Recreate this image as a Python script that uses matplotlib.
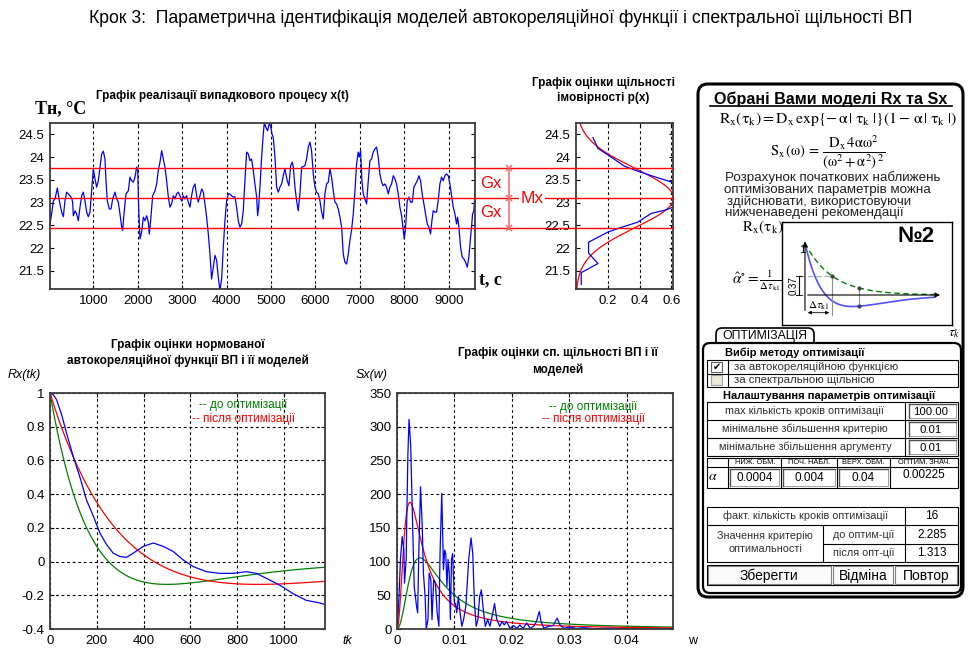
import numpy as np
import matplotlib
matplotlib.use('Agg')
import matplotlib.pyplot as plt
from matplotlib.patches import FancyBboxPatch, Rectangle
from matplotlib.lines import Line2D
import matplotlib.transforms as mtransforms

plt.rcParams['font.family'] = ['Liberation Sans', 'DejaVu Sans']
plt.rcParams['mathtext.fontset'] = 'stix'

# ---------------- data ----------------
t_series = [25, 62, 100, 138, 190, 235, 288, 325, 362, 400, 475, 512, 535, 550, 588, 625, 662, 700, 738, 775,
            812, 850, 888, 925, 962, 1000, 1038, 1075, 1112, 1150, 1188, 1225, 1262, 1285, 1315, 1360, 1398, 1435,
            1488, 1525, 1562, 1600, 1638, 1660, 1690, 1735, 1788, 1825, 1862, 1900, 1938, 1975, 1998, 2020, 2050,
            2088, 2125, 2162, 2200, 2238, 2260, 2290, 2335, 2388, 2425, 2462, 2500, 2538, 2575, 2612, 2650, 2688,
            2725, 2762, 2800, 2838, 2875, 2912, 2950, 2988, 3025, 3062, 3100, 3138, 3175, 3212, 3250, 3288, 3325,
            3362, 3400, 3438, 3475, 3512, 3550, 3588, 3625, 3662, 3700, 3738, 3775, 3812, 3850, 3888, 3925, 3962,
            4000, 4038, 4075, 4112, 4150, 4188, 4225, 4262, 4300, 4338, 4375, 4412, 4450, 4488, 4525, 4562, 4600,
            4638, 4675, 4698, 4720, 4750, 4788, 4825, 4848, 4885, 4922, 4960, 4990, 5020, 5050, 5088, 5125, 5162,
            5200, 5238, 5275, 5312, 5335, 5365, 5402, 5440, 5478, 5500, 5538, 5575, 5612, 5650, 5688, 5725, 5762,
            5800, 5838, 5875, 5912, 5950, 5988, 6025, 6062, 6100, 6138, 6175, 6212, 6250, 6288, 6325, 6362, 6400,
            6438, 6475, 6512, 6550, 6588, 6625, 6662, 6700, 6738, 6775, 6812, 6850, 6888, 6925, 6962, 6985, 7015,
            7045, 7075, 7112, 7150, 7188, 7225, 7262, 7300, 7338, 7375, 7412, 7450, 7488, 7525, 7562, 7600, 7638,
            7675, 7712, 7750, 7788, 7825, 7862, 7900, 7938, 7975, 7998, 8028, 8065, 8102, 8140, 8178, 8215, 8252,
            8290, 8328, 8365, 8402, 8440, 8478, 8515, 8552, 8590, 8620, 8650, 8688, 8725, 8762, 8800, 8838, 8875,
            8912, 8950, 8988, 9025, 9062, 9100, 9138, 9175, 9198, 9228, 9265, 9302, 9340, 9378, 9415, 9452, 9490,
            9512, 9535, 9565, 9588]
x_series = [22.53, 22.75, 23.04, 23.08, 23.32, 23.04, 22.79, 22.69, 23.04, 23.23, 23.15, 23.10, 23.01, 22.71, 22.82,
            22.75, 22.60, 22.90, 23.15, 23.23, 23.04, 22.79, 22.69, 22.79, 23.26, 23.74, 23.52, 23.34, 23.48, 23.78,
            24.07, 24.13, 23.96, 23.48, 23.04, 22.86, 22.86, 23.08, 23.23, 23.08, 23.01, 22.75, 22.46, 22.39, 22.75,
            23.19, 23.26, 23.56, 23.48, 23.45, 23.56, 23.78, 23.74, 22.90, 22.20, 22.35, 22.68, 22.60, 22.71, 22.57,
            22.31, 22.60, 23.15, 23.26, 23.41, 23.70, 23.89, 24.14, 23.96, 23.78, 23.48, 23.12, 22.90, 22.97, 23.15,
            23.08, 23.19, 23.23, 23.15, 23.03, 23.15, 23.08, 23.15, 23.01, 22.90, 23.15, 23.34, 23.41, 23.15, 23.01,
            23.15, 23.30, 23.23, 22.97, 22.68, 22.31, 21.87, 21.32, 21.58, 21.84, 21.73, 21.36, 21.07, 21.32, 22.02,
            22.60, 23.04, 23.19, 23.19, 23.15, 23.12, 23.13, 22.90, 22.60, 22.46, 22.53, 22.82, 23.48, 24.11, 24.07,
            23.92, 23.96, 23.70, 23.41, 23.12, 22.71, 22.90, 23.34, 24.00, 24.51, 24.76, 24.65, 24.58, 24.73, 24.69,
            24.51, 24.43, 24.00, 23.34, 23.23, 23.34, 23.41, 23.59, 23.74, 23.63, 23.48, 23.37, 23.81, 23.89, 23.78,
            23.34, 23.04, 22.82, 23.19, 23.78, 23.79, 23.81, 23.96, 24.22, 24.33, 24.14, 23.63, 23.34, 23.23, 23.19,
            23.04, 22.79, 22.64, 23.19, 23.41, 23.45, 23.74, 23.56, 23.26, 23.01, 22.97, 22.86, 22.68, 22.46, 21.87,
            21.69, 21.65, 21.87, 22.17, 22.39, 22.75, 23.26, 23.85, 24.11, 24.00, 24.14, 23.48, 23.19, 23.08, 22.97,
            23.48, 23.92, 23.96, 24.11, 24.18, 24.22, 24.00, 23.63, 23.45, 23.37, 23.41, 23.34, 23.19, 23.34, 23.41,
            23.59, 23.52, 23.41, 23.19, 22.90, 22.71, 22.39, 22.20, 22.46, 23.04, 23.12, 23.01, 23.01, 23.34, 23.41,
            23.48, 23.59, 23.48, 23.19, 22.97, 22.75, 22.53, 22.46, 22.31, 22.60, 22.82, 22.79, 22.79, 23.04, 23.41,
            23.56, 23.48, 23.59, 23.63, 23.59, 23.41, 23.15, 22.90, 22.75, 22.53, 22.68, 22.46, 22.02, 21.80, 21.76,
            21.69, 21.58, 21.80, 22.24, 22.46, 22.75, 22.82, 23.19]

Mx = 23.1   # mean
Gx = 0.65   # standard deviation

pdf_level = [24.43, 24.19, 24.06, 23.80, 23.69, 23.57, 23.43, 23.25, 23.05, 22.91, 22.83, 22.76, 22.57, 22.43,
             22.35, 22.13, 21.89, 21.66, 21.46, 21.20]
pdf_dens = [0.107, 0.138, 0.196, 0.305, 0.389, 0.493, 0.62, 0.70, 0.70, 0.62, 0.556, 0.472, 0.389, 0.263,
            0.20, 0.079, 0.079, 0.138, 0.033, 0.033]

tau_emp = [0, 14, 28, 50, 71, 100, 128, 156, 185, 213, 242, 270, 299, 327, 356, 398, 441, 484, 526, 569, 612,
           669, 725, 782, 839, 882, 925, 982, 1038, 1095, 1152, 1173]
R_emp = [1.0, 0.99, 0.96, 0.87, 0.76, 0.62, 0.50, 0.365, 0.27, 0.17, 0.10, 0.05, 0.03, 0.025, 0.05, 0.09, 0.11,
         0.09, 0.06, 0.01, -0.03, -0.06, -0.07, -0.07, -0.06, -0.07, -0.10, -0.14, -0.19, -0.23, -0.245, -0.255]

alpha_before = 0.004
alpha_after = 0.00225
Dx = Gx ** 2

w_emp = [0, 0.0003, 0.0006, 0.0009, 0.0012, 0.0013, 0.0016, 0.0017, 0.0019, 0.0021, 0.0024, 0.0027, 0.0030,
         0.0034, 0.0036, 0.0038, 0.0041, 0.0044, 0.0046, 0.0049, 0.0051, 0.0054, 0.0056, 0.0059, 0.0061, 0.0064,
         0.0067, 0.0070, 0.0073, 0.0075, 0.0078, 0.0081, 0.0083, 0.0085, 0.0087, 0.0089, 0.0091, 0.0093, 0.0095,
         0.0097, 0.0100, 0.0102, 0.0104, 0.0107, 0.0110, 0.0113, 0.0116, 0.0120, 0.0125, 0.0129, 0.0132, 0.0135,
         0.0138, 0.0141, 0.0144, 0.0147, 0.0151, 0.0154, 0.0158, 0.0162, 0.0167, 0.0170, 0.0174, 0.0179, 0.0183,
         0.0187, 0.0191, 0.0197, 0.0203, 0.0209, 0.0214, 0.0220, 0.0226, 0.0232, 0.0238, 0.0243, 0.0248, 0.0251,
         0.0256, 0.0264, 0.0272, 0.0279, 0.0284, 0.0291, 0.0301, 0.0313, 0.0325, 0.0342, 0.0365, 0.0394, 0.0423,
         0.0452, 0.0481]
S_emp = [0, 38, 103, 137, 117, 68, 103, 162, 260, 311, 270, 162, 63, 34, 24, 112, 211, 152, 83, 48, 0, 14, 83,
         73, 14, 73, 68, 24, 4, 112, 201, 88, 117, 112, 63, 103, 83, 14, 103, 112, 38, 38, 24, 48, 24, 4, 14, 34,
         103, 135, 112, 38, 4, 14, 48, 58, 24, 4, 14, 4, 24, 38, 14, 4, 11, 6, 11, 1, 5, 1, 6, 1, 9, 1, 4, 11, 26,
         11, 1, 4, 5, 16, 6, 1, 3, 1, 2, 0.5, 1, 0.5, 0.5, 0.5, 0.5]

ts_xticks = [1000, 2000, 3000, 4000, 5000, 6000, 7000, 8000, 9000]
ts_yticks = [21.5, 22, 22.5, 23, 23.5, 24, 24.5]
pdf_xticks = [0.2, 0.4, 0.6]
acf_xticks = [0, 200, 400, 600, 800, 1000]
acf_yticks = [-0.4, -0.2, 0, 0.2, 0.4, 0.6, 0.8, 1]
sp_xticks = [0, 0.01, 0.02, 0.03, 0.04]
sp_yticks = [0, 50, 100, 150, 200, 250, 300, 350]

# ---------------- figure ----------------
W, H = 969, 651
fig = plt.figure(figsize=(W / 100, H / 100), dpi=100)
fig.patch.set_facecolor('white')


def rect(l, t, r, b):
    return [l / W, 1 - b / H, (r - l) / W, (b - t) / H]


def ftxt(x, y, s, **kw):
    kw.setdefault('ha', 'center')
    kw.setdefault('va', 'center')
    return fig.text(x / W, 1 - y / H, s, **kw)


GRID = dict(color='black', linestyle=(0, (2.5, 2.5)), linewidth=0.8)
fmt = matplotlib.ticker.FuncFormatter(lambda v, p: ('%g' % round(v, 6)))


def style(ax):
    for s in ax.spines.values():
        s.set_color('#3c3c3c')
        s.set_linewidth(1.3)
    ax.tick_params(direction='in', length=3, width=0.8, labelsize=9.5, top=True, right=True, pad=4)
    ax.xaxis.set_major_formatter(fmt)
    ax.yaxis.set_major_formatter(fmt)


# time series
ax1 = fig.add_axes(rect(50, 123, 475, 289))
ax1.plot(t_series, x_series, color='#0000ff', lw=0.9)
ax1.set_xlim(25, 9590)
ax1.set_ylim(21.1, 24.75)
ax1.set_xticks(ts_xticks)
ax1.set_yticks(ts_yticks)
ax1.grid(True, axis='x', **GRID)
style(ax1)

# pdf
ax2 = fig.add_axes(rect(576, 123, 673, 289))
ylev = np.linspace(21.1, 24.75, 300)
ax2.plot(np.exp(-(ylev - Mx) ** 2 / (2 * Gx ** 2)) / (Gx * np.sqrt(2 * np.pi)), ylev, color='red', lw=0.9)
ax2.plot(pdf_dens, pdf_level, color='#0000ff', lw=0.9)
ax2.set_xlim(0, 0.61)
ax2.set_ylim(21.1, 24.75)
ax2.set_xticks(pdf_xticks)
ax2.set_yticks(ts_yticks)
ax2.grid(True, axis='x', **GRID)
style(ax2)

# red Mx / Gx lines
trans = mtransforms.blended_transform_factory(fig.transFigure, ax1.transData)
for yv in [Mx - Gx, Mx, Mx + Gx]:
    fig.add_artist(Line2D([50 / W, 673 / W], [yv, yv], transform=trans, color='red', lw=1.0, zorder=5))
fig.add_artist(Line2D([509 / W] * 3, [Mx - Gx, Mx, Mx + Gx], transform=trans, color='#ff7070', lw=1.2,
                      marker='x', ms=4, mew=1.2, zorder=6))
fig.text(491 / W, Mx + Gx / 2, 'Gx', transform=trans, color='red', fontsize=12, ha='center', va='center')
fig.text(491 / W, Mx - Gx / 2, 'Gx', transform=trans, color='red', fontsize=12, ha='center', va='center')
fig.text(532 / W, Mx, 'Mx', transform=trans, color='red', fontsize=12.5, ha='center', va='center', zorder=7,
         bbox=dict(facecolor='white', edgecolor='none', pad=1.0))

# ACF
ax3 = fig.add_axes(rect(50, 393, 325, 629))
tau = np.linspace(0, 1175, 400)
ax3.plot(tau, np.exp(-alpha_before * tau) * (1 - alpha_before * tau), color='#008000', lw=0.9)
ax3.plot(tau, np.exp(-alpha_after * tau) * (1 - alpha_after * tau), color='red', lw=0.9)
ax3.plot(tau_emp, R_emp, color='#0000ff', lw=0.9)
ax3.set_xlim(0, 1175)
ax3.set_ylim(-0.4, 1)
ax3.set_xticks(acf_xticks)
ax3.set_yticks(acf_yticks)
ax3.grid(True, **GRID)
style(ax3)

# spectral density
ax4 = fig.add_axes(rect(397, 393, 673, 629))
om = np.linspace(0, 0.0481, 500)
for a, c in [(alpha_before, '#008000'), (alpha_after, 'red')]:
    ax4.plot(om, Dx * 4 * a * om ** 2 / (om ** 2 + a ** 2) ** 2, color=c, lw=0.9)
ax4.plot(w_emp, S_emp, color='#0000ff', lw=0.9)
ax4.set_xlim(0, 0.0481)
ax4.set_ylim(0, 350)
ax4.set_xticks(sp_xticks)
ax4.set_yticks(sp_yticks)
ax4.grid(True, **GRID)
style(ax4)

# texts around plots
ftxt(501, 18, 'Крок 3:  Параметрична ідентифікація моделей автокореляційної функції і спектральної щільності ВП',
     fontsize=12.7)
ftxt(222, 96, 'Графік реалізації випадкового процесу x(t)', fontsize=8.5, fontweight='bold')
ftxt(35, 109, 'Тн, °C', fontsize=13, fontweight='bold', family='Liberation Serif', ha='left')
ftxt(479, 280, 't, c', fontsize=13, fontweight='bold', family='Liberation Serif', ha='left')
ftxt(603, 83, 'Графік оцінки щільності', fontsize=8.5, fontweight='bold')
ftxt(603, 98, 'імовірності p(x)', fontsize=8.5, fontweight='bold')
ftxt(188, 345, 'Графік оцінки нормованої', fontsize=8.5, fontweight='bold')
ftxt(188, 361, 'автокореляційної функції ВП і її моделей', fontsize=8.5, fontweight='bold')
ftxt(558, 353, 'Графік оцінки сп. щільності ВП і її', fontsize=8.5, fontweight='bold')
ftxt(558, 370, 'моделей', fontsize=8.5, fontweight='bold')
ftxt(8, 375, 'Rx(tk)', fontsize=9, style='italic', ha='left')
ftxt(356, 375, 'Sx(w)', fontsize=9, style='italic', ha='left')
ftxt(342, 641, 'tk', fontsize=9, style='italic', ha='left')
ftxt(688, 641, 'w', fontsize=9, ha='left')
ftxt(243, 405, '-- до оптимізації', fontsize=8.5, color='#008000')
ftxt(243, 419, '-- після оптимізації', fontsize=8.5, color='red')
ftxt(593, 407, '-- до оптимізації', fontsize=8.5, color='#008000')
ftxt(593, 419, '-- після оптимізації', fontsize=8.5, color='red')

# ---------------- right panel (pixel overlay) ----------------
ov = fig.add_axes([0, 0, 1, 1])
ov.set_xlim(0, W)
ov.set_ylim(H, 0)
ov.axis('off')


def T(x, y, s, **kw):
    kw.setdefault('ha', 'center')
    kw.setdefault('va', 'center')
    kw.setdefault('fontsize', 8)
    ov.text(x, y, s, **kw)


def box(l, t, r, b, lw=0.8, fc='none', ec='black', z=2):
    ov.add_patch(Rectangle((l, t), r - l, b - t, fill=(fc != 'none'), facecolor=fc, edgecolor=ec, lw=lw,
                           zorder=z))


def rbox(l, t, r, b, lw=1.5, rs=8, fc='none', z=2):
    ov.add_patch(FancyBboxPatch((l, t), r - l, b - t, boxstyle='round,pad=0,rounding_size=%g' % rs,
                                fill=(fc != 'none'), facecolor=fc, edgecolor='black', lw=lw, zorder=z))


def hl(x0, x1, y, **kw):
    kw.setdefault('color', 'black')
    kw.setdefault('lw', 0.8)
    ov.plot([x0, x1], [y, y], **kw)


def vl(x, y0, y1, **kw):
    kw.setdefault('color', 'black')
    kw.setdefault('lw', 0.8)
    ov.plot([x, x], [y0, y1], **kw)


rbox(698, 84, 963, 597, lw=2.2, rs=10)
T(831, 99, 'Обрані Вами моделі Rx та Sx', fontsize=11.6, fontweight='bold')
hl(710, 952, 106, lw=1.2)
T(838, 119, r'$\mathrm{R_x(\tau_k) = D_x\,exp\{-\,\alpha\,|\;\tau_k\;|\}(1-\,\alpha\,|\;\tau_k\;|)}$', fontsize=11.3)
T(828, 153, r'$\mathrm{S_x\,(\omega)\,=\,\dfrac{D_x\,4\alpha\omega^2}{(\omega^2+\alpha^2)^{\,2}}}$', fontsize=10.5)
para = ['Розрахунок початкових наближень', 'оптимізованих параметрів можна',
        'здійснювати, використовуючи', 'нижченаведені рекомендації']
for i, (s, x0) in enumerate(zip(para, [725, 724, 727, 725])):
    T(x0, [178, 190, 202, 213][i], s, fontsize=9.6, ha='left', color='#202020')
T(763, 227, r'$\mathrm{R_x(\tau_k)}$', fontsize=11)
T(757, 281, r'$\hat{\alpha}^{\circ}=\frac{1}{\Delta\tau_{\mathrm{k1}}}$', fontsize=11)
T(954, 334, r'$\tau_k$', fontsize=10)

# schematic inset
ins = fig.add_axes(rect(782, 222, 952, 325))
ins.set_xlim(-0.85, 5.44)
ins.set_ylim(-0.577, 1.404)
ins.set_xticks([])
ins.set_yticks([])
for s in ins.spines.values():
    s.set_linewidth(1.0)
sch_tau = np.linspace(0, 4.8, 200)
ins.annotate('', xy=(5.1, 0), xytext=(0, 0), arrowprops=dict(arrowstyle='-|>', color='black', lw=0.8,
                                                              mutation_scale=7))
ins.annotate('', xy=(0, 1.08), xytext=(0, -0.35), arrowprops=dict(arrowstyle='-|>', color='black', lw=0.8,
                                                                 mutation_scale=7))
ins.plot(sch_tau, np.exp(-sch_tau), color='#008000', lw=1.0, ls=(0, (4, 2.5)))
ins.plot(sch_tau, np.exp(-sch_tau) * (1 - 1.3 * sch_tau), color='#5050ff', lw=1.2)
ins.plot([-0.22, 1], [np.exp(-1)] * 2, color='#b0b0b0', lw=1.0, ls=(0, (4, 2)))
ins.plot([1, 1], [np.exp(-1), -0.38], color='#909090', lw=0.8)
ins.plot([2, 2], [np.exp(-2), np.exp(-2) * (1 - 2.6)], color='#909090', lw=0.8)
ins.plot([1, 2, 2], [np.exp(-1), np.exp(-2), np.exp(-2) * (1 - 2.6)], 'o', color='#404040', ms=2)
ins.plot([-0.22, -0.22], [0, np.exp(-1)], color='black', lw=0.8)
ins.plot([-0.32, -0.12], [np.exp(-1)] * 2, color='black', lw=0.6)
ins.plot([-0.32, -0.12], [0, 0], color='black', lw=0.6)
ins.annotate('', xy=(1, -0.34), xytext=(0, -0.34), arrowprops=dict(arrowstyle='<|-|>', color='black', lw=0.6,
                                                                  mutation_scale=5))
ins.text(-0.42, 0.18, '0.37', rotation=90, fontsize=7, ha='center', va='center')
ins.text(0.5, -0.2, r'$\Delta\tau_{\mathrm{k1}}$', fontsize=8, ha='center', va='center')
ins.text(0.0, 0.87, '1', fontsize=8, ha='right', va='center')
ins.text(4.1, 1.12, '№2', fontsize=16, fontweight='bold', ha='center', va='center')

# optimisation block
ov.add_patch(FancyBboxPatch((716, 328), 98, 18, boxstyle='round,pad=0,rounding_size=6', facecolor='white',
                            edgecolor='black', lw=1.2, zorder=2))
rbox(703, 343, 961, 593, lw=1.6, rs=7, fc='white', z=3)
T(765, 336, 'ОПТИМІЗАЦІЯ', fontsize=8.8, zorder=4)
T(795, 353, 'Вибір методу оптимізації', fontsize=8, fontweight='bold', zorder=4)
box(707, 360, 958, 387, z=4)
hl(707, 958, 373.5, zorder=4)
vl(728, 360, 387, zorder=4)
box(711, 362, 722, 372, lw=0.8, fc='white', ec='#606060', z=4)
box(711, 375, 722, 385, lw=0.8, fc='#ece9d8', ec='#a0a0a0', z=4)
T(716.5, 366.5, '✔', fontsize=7, family='DejaVu Sans', zorder=5)
T(734, 367, 'за автокореляційною функцією', fontsize=8.2, ha='left', color='#303030', zorder=4)
T(734, 380, 'за спектральною щільнісю', fontsize=8.2, ha='left', color='#303030', zorder=4)
T(829, 396, 'Налаштування параметрів оптимізації', fontsize=8, fontweight='bold', zorder=4)
box(707, 402, 958, 456, z=4)
hl(707, 958, 420, zorder=4)
hl(707, 958, 438, zorder=4)
vl(905, 402, 456, zorder=4)
rows = [('max кількість кроків оптимізації', '100.00'), ('мінімальне збільшення критерію', '0.01'),
        ('мінімальне збільшення аргументу', '0.01')]
for i, (lab, val) in enumerate(rows):
    yc = 411 + 18 * i
    T(805, yc, lab, fontsize=7.8, color='#303030', zorder=4)
    ov.add_patch(Rectangle((909, yc - 7), 47, 14, facecolor='white', edgecolor='#909090', lw=0.6, zorder=4))
    hl(909, 956, yc - 7, color='#505050', lw=1.0, zorder=5)
    vl(909, yc - 7, yc + 7, color='#505050', lw=1.0, zorder=5)
    T(931, yc + 1, val, fontsize=8.2, zorder=5)

box(707, 458, 958, 488, z=4)
hl(707, 958, 467, zorder=4)
for xv in [728, 781, 837, 890]:
    vl(xv, 458, 488, zorder=4)
heads = ['НИЖ. ОБМ.', 'ПОЧ. НАБЛ.', 'ВЕРХ. ОБМ.', 'ОПТИМ. ЗНАЧ.']
vals = ['0.0004', '0.004', '0.04', '0.00225']
cx = [755, 809, 863, 924]
for i in range(4):
    T(cx[i], 463, heads[i], fontsize=5.3, zorder=5)
    if i < 3:
        l, r = [(730, 779), (783, 835), (839, 888)][i]
        ov.add_patch(Rectangle((l, 469), r - l, 17, facecolor='white', edgecolor='#909090', lw=0.6, zorder=4))
        hl(l, r, 469, color='#505050', lw=1.0, zorder=5)
        vl(l, 469, 486, color='#505050', lw=1.0, zorder=5)
        T(cx[i], 478, vals[i], fontsize=8.5, zorder=5)
    else:
        T(cx[i], 475, vals[i], fontsize=8.5, zorder=5)
T(713, 476, r'$\alpha$', fontsize=10, zorder=5)

box(707, 507, 958, 562, z=4)
hl(707, 958, 525, zorder=4)
hl(823, 958, 544, zorder=4)
vl(905, 507, 562, zorder=4)
vl(823, 525, 562, zorder=4)
T(806, 516, 'факт. кількість кроків оптимізації', fontsize=7.8, color='#303030', zorder=5)
T(932, 516, '16', fontsize=8.5, zorder=5)
T(765, 536, 'Значення критерію', fontsize=7.8, color='#303030', zorder=5)
T(765, 549, 'оптимальності', fontsize=7.8, color='#303030', zorder=5)
T(864, 535, 'до оптим-ції', fontsize=7.8, color='#303030', zorder=5)
T(864, 553, 'після опт-ції', fontsize=7.8, color='#303030', zorder=5)
T(932, 535, '2.285', fontsize=8.5, zorder=5)
T(932, 553, '1.313', fontsize=8.5, zorder=5)

box(707, 565, 958, 585, z=4)
for l, r in [(707, 832), (832, 894), (894, 958)]:
    box(l + 1, 566, r - 1, 584, lw=0.8, fc='#fbfbfb', ec='#808080', z=4)
T(769, 576, 'Зберегти', fontsize=10, zorder=5)
T(863, 576, 'Відміна', fontsize=10, zorder=5)
T(926, 576, 'Повтор', fontsize=10, zorder=5)

fig.savefig('out.png', dpi=100)
